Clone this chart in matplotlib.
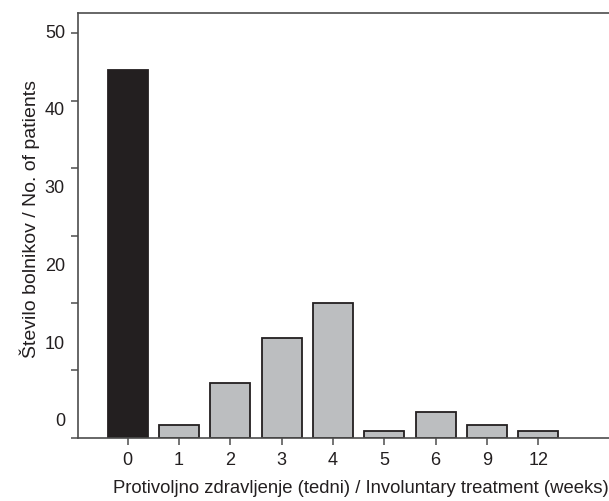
import numpy as np
import matplotlib
matplotlib.use("Agg")
import matplotlib.pyplot as plt

# weeks of involuntary treatment and number of patients
weeks = ["0", "1", "2", "3", "4", "5", "6", "9", "12"]
patients = [45.5, 1.6, 6.8, 12.3, 16.7, 0.8, 3.2, 1.6, 0.9]
ytick_labels = ["0", "10", "20", "30", "40", "50"]

ink = "#231f20"
plt.rcParams["font.family"] = ["Liberation Sans", "DejaVu Sans"]
plt.rcParams["font.size"] = 13

fig = plt.figure(figsize=(6.09, 5.01), dpi=100)
ax = fig.add_axes([0.128, 0.126, 0.872, 0.848])

x = np.arange(len(weeks))
colors = [ink] + ["#bcbec0"] * (len(weeks) - 1)
ax.bar(x, patients, width=0.78, color=colors, edgecolor=ink, linewidth=1.3)

ax.set_xlim(-0.97, 9.38)
ax.set_ylim(0, 52.5)
ax.set_xticks(x, weeks, color=ink, fontsize=13)
ax.set_yticks(np.linspace(0, 50, 7), [])

# the y labels in the original sit off the tick marks
for lab, y in zip(ytick_labels, np.linspace(2, 50, 6)):
    ax.annotate(lab, xy=(0, y), xycoords=("axes fraction", "data"),
                xytext=(-13, 0), textcoords="offset pixels",
                ha="right", va="center", color=ink, fontsize=13)

for s in ["top", "left", "bottom"]:
    ax.spines[s].set_color("#4d4d4d")
    ax.spines[s].set_linewidth(1.2)
ax.spines["right"].set_visible(False)
ax.tick_params(length=5, width=1.1, color="#4d4d4d", pad=5)

ax.set_xlabel("Protivoljno zdravljenje (tedni) / Involuntary treatment (weeks)",
              color=ink, fontsize=13.3)
ax.set_ylabel("Število bolnikov / No. of patients", color=ink, fontsize=14)
ax.xaxis.set_label_coords(0.533, -0.098)
ax.yaxis.set_label_coords(-0.072, 0.515)

fig.savefig("out.png", dpi=100)
